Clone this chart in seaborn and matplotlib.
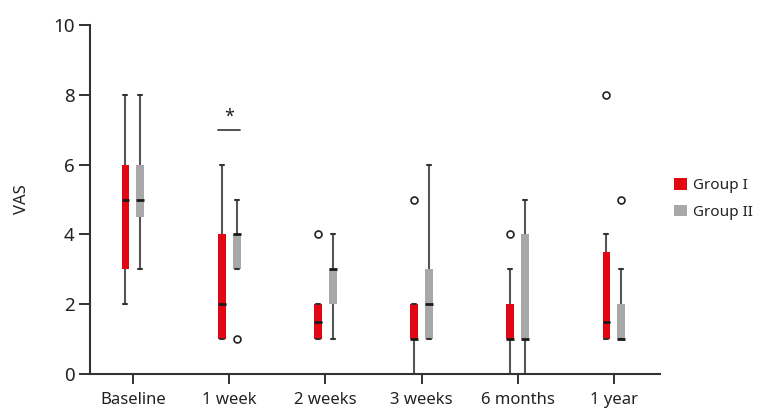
import numpy as np
import pandas as pd
import seaborn as sns
import matplotlib.pyplot as plt
from matplotlib.patches import Patch

# Time points and groups
timepoints = ["Baseline", "1 week", "2 weeks", "3 weeks", "6 months", "1 year"]
groups = ["Group I", "Group II"]

# VAS scores per time point
group1_vas = [
    [2, 3, 3, 5, 5, 6, 6, 8],
    [1, 1, 1, 2, 2, 4, 4, 6],
    [1, 1, 1, 1, 2, 2, 2, 4],
    [0, 1, 1, 1, 1, 2, 2, 5],
    [0, 1, 1, 1, 1, 2, 2, 3, 4],
    [1, 1, 1, 1, 1, 2, 3.5, 3.5, 4, 8],
]
group2_vas = [
    [3, 4.5, 4.5, 5, 5, 6, 6, 8],
    [1, 3, 3, 4, 4, 4, 4, 5],
    [1, 2, 2, 3, 3, 3, 3, 4],
    [1, 1, 1, 2, 2, 3, 3, 6],
    [0, 1, 1, 1, 1, 4, 4, 5],
    [1, 1, 1, 1, 1, 2, 2, 3, 5],
]

colors = ["#E30613", "#A8A8A8"]

# Build long-form table
rows = []
for grp, vals in zip(groups, [group1_vas, group2_vas]):
    for tp, scores in zip(timepoints, vals):
        for s in scores:
            rows.append({"time": tp, "group": grp, "VAS": s})
df = pd.DataFrame(rows)

sns.set_style("ticks")
plt.rcParams['font.family'] = ['Noto Sans', 'DejaVu Sans']

fig = plt.figure(figsize=(7.62, 4.08), dpi=100)
ax = fig.add_axes([0.118, 0.0833, 0.748, 0.8554])

box_width = 0.31
sns.boxplot(data=df, x="time", y="VAS", hue="group", order=timepoints,
            hue_order=groups, palette=colors, saturation=1,
            width=box_width, gap=0.47, whis=1.5, legend=False, ax=ax,
            boxprops=dict(linewidth=0),
            medianprops=dict(color="#1a1a1a", linewidth=2),
            whiskerprops=dict(color="#555555", linewidth=1.5),
            capprops=dict(color="#333333", linewidth=1.5),
            flierprops=dict(marker="o", markerfacecolor="none",
                            markeredgecolor="#222222", markersize=5,
                            markeredgewidth=1.2))

ax.set_ylim(0, 10)
ax.set_xlim(-0.447, 5.478)
ax.set_yticks([0, 2, 4, 6, 8, 10])
ax.set_xlabel("")
ax.set_ylabel("VAS", fontsize=12, color="#222222")
ax.yaxis.set_label_coords(-0.105, 0.5)

ax.tick_params(axis="y", labelsize=13.5, length=8, width=1.3,
               colors="#222222", pad=3)
ax.tick_params(axis="x", labelsize=12, length=7, width=1.3,
               colors="#222222", pad=6)
for side in ["left", "bottom"]:
    ax.spines[side].set_linewidth(1.5)
    ax.spines[side].set_color("#333333")
sns.despine(ax=ax)

# significance marker at 1 week
off = box_width / 4
ax.plot([1 - off - 0.035, 1 + off + 0.035], [7, 7], color="#444444", lw=1.3)
ax.text(1, 7.12, "*", ha="center", va="bottom", fontsize=13, color="#222222")

handles = [Patch(facecolor=c, edgecolor="none") for c in colors]
fig.legend(handles, groups, loc="upper left", bbox_to_anchor=(0.871, 0.59),
           frameon=False, fontsize=11, handlelength=0.8, handleheight=0.8,
           handletextpad=0.4, labelspacing=0.75, borderpad=0.2,
           labelcolor="#222222")

plt.savefig("out.png", dpi=100)
